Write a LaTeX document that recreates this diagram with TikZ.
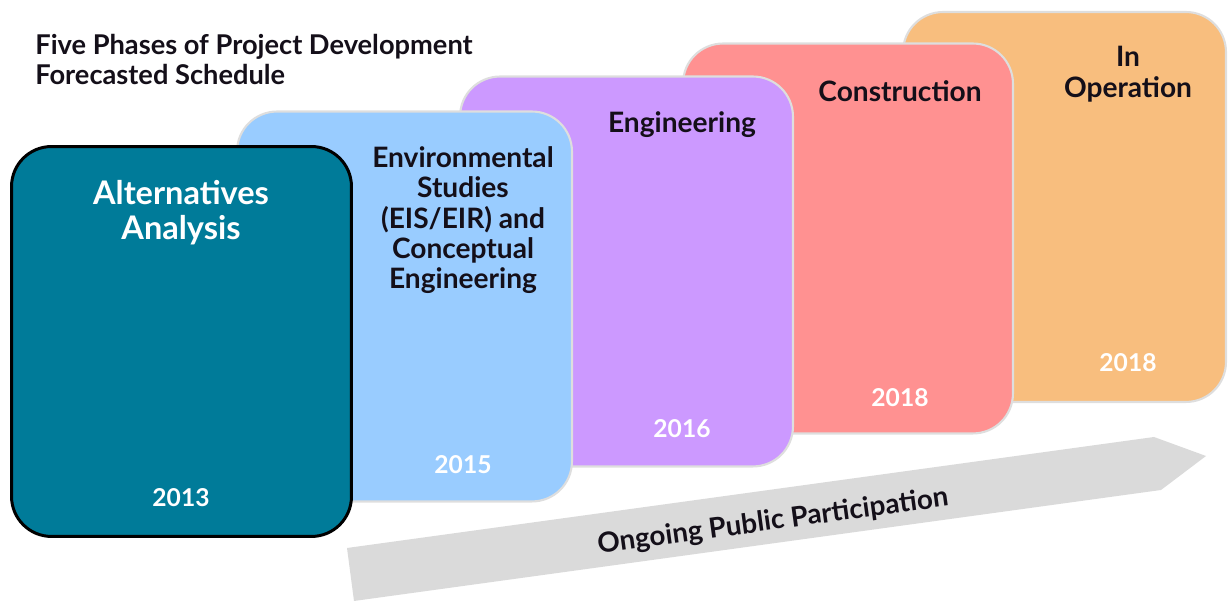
\documentclass[tikz,border=0pt]{standalone}
\usepackage{fontspec}
\setsansfont{Lato}
\usepackage{xcolor}
\usepackage{tikz}
\usetikzlibrary{calc}
\usetikzlibrary{positioning}
\definecolor{phase-teal}{RGB}{0, 123, 153}
\definecolor{phase-blue}{RGB}{153, 204, 255}
\definecolor{phase-purple}{RGB}{204, 153, 255}
\definecolor{phase-red}{RGB}{255, 145, 145}
\definecolor{phase-orange}{RGB}{248, 190, 126}
\definecolor{phase-edge}{RGB}{222, 222, 222}
\definecolor{band-gray}{RGB}{218, 218, 218}
\definecolor{ink}{RGB}{20, 15, 25}

\begin{document}
\begin{tikzpicture}[x=0.02cm, y=0.02cm, font=\sffamily\bfseries,
    phase/.style={draw=phase-edge, line width=1.2pt, rounded corners=0.8cm,
      minimum height=7.8cm, inner sep=0pt},
    phasetext/.style={anchor=north, align=center, text=ink, inner sep=0pt, font=\sffamily\bfseries\fontsize{16}{17.3}\selectfont},
    yeartext/.style={text=white, font=\sffamily\bfseries\fontsize{14}{17}\selectfont}]
          \useasboundingbox (0, 0) rectangle (1228, 601);

          % phases, back to front
          \node[phase, fill=phase-orange, minimum width=6.46cm] (oper) at (1064.5, 394) {};
          \node[phase, fill=phase-red, minimum width=6.6cm] (constr) at (848, 362.5) {};
          \node[phase, fill=phase-purple, minimum width=6.66cm] (eng) at (626.5, 329.5) {};
          \node[phase, fill=phase-blue, minimum width=6.7cm] (env) at (404.5, 294.5) {};
          \node[phase, fill=phase-teal, draw=black, line width=1.7pt, minimum width=6.8cm] (alt) at (181.5, 259.5) {};

          % titles and years
          \node[phasetext, text=white, font=\sffamily\bfseries\fontsize{18.5}{20}\selectfont] (altName) at (181, 421) {Alternatives\\Analysis};
          \node[yeartext] (altYear) at (181, 103) {2013};
          \node[phasetext] (envName) at (463, 455) {Environmental\\Studies\\(EIS/EIR) and\\Conceptual\\Engineering};
          \node[yeartext] (envYear) at (463, 136) {2015};
          \node[phasetext] (engName) at (682, 490) {Engineering};
          \node[yeartext] (engYear) at (682, 172) {2016};
          \node[phasetext] (constrName) at (900, 521) {Construction};
          \node[yeartext] (constrYear) at (900, 203) {2018};
          \node[phasetext] (operName) at (1128, 555) {In\\Operation};
          \node[yeartext] (operYear) at (1128, 238) {2018};

          % heading
          \node[anchor=north west, align=left, text=ink, inner sep=0pt,
            font=\sffamily\bfseries\fontsize{15.5}{17}\selectfont] (heading) at (35, 567)
            {Five Phases of Project Development\\Forecasted Schedule};

          % public participation band
          \coordinate (bandTL) at (347, 53);
          \coordinate (bandTR) at (1154, 164);
          \coordinate (bandTip) at (1206, 145);
          \coordinate (bandBR) at (1161, 111);
          \coordinate (bandBL) at (354, 0);
          \fill[band-gray] (bandTL) -- (bandTR) -- (bandTip) -- (bandBR) -- (bandBL) -- cycle;
          \node[rotate=7.8, text=ink, font=\sffamily\bfseries\fontsize{15.8}{17}\selectfont] (bandName) at (773, 79) {Ongoing Public Participation};
        \end{tikzpicture}
\end{document}
